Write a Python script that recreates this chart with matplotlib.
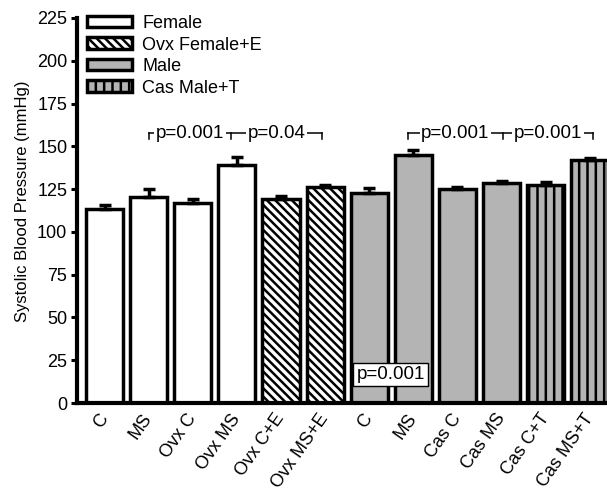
import numpy as np
import matplotlib
matplotlib.use("Agg")
import matplotlib.pyplot as plt
import matplotlib.transforms as mtransforms
from matplotlib.patches import Patch

plt.rcParams['font.family'] = ['Liberation Sans', 'DejaVu Sans']
plt.rcParams['hatch.linewidth'] = 1.8

# data
labels = ['C', 'MS', 'Ovx C', 'Ovx MS', 'Ovx C+E', 'Ovx MS+E',
          'C', 'MS', 'Cas C', 'Cas MS', 'Cas C+T', 'Cas MS+T']
groups = ['Female', 'Female', 'Female', 'Female', 'Ovx Female+E', 'Ovx Female+E',
          'Male', 'Male', 'Male', 'Male', 'Cas Male+T', 'Cas Male+T']
sbp = [113.5, 120.5, 117, 139, 119.5, 126, 123, 145, 125, 128.5, 127.5, 142]
sem = [2, 4.5, 2, 4.5, 1.5, 1.5, 2.5, 3, 1.5, 1, 1.5, 1]

group_names = ['Female', 'Ovx Female+E', 'Male', 'Cas Male+T']
fills = {'Female': 'white', 'Ovx Female+E': 'white', 'Male': '#b4b4b4', 'Cas Male+T': '#b4b4b4'}
hatches = {'Female': None, 'Ovx Female+E': '\\\\\\\\', 'Male': None, 'Cas Male+T': '||'}

fig = plt.figure(figsize=(6.07, 4.9), dpi=100)
ax = fig.add_axes([77 / 607, 87 / 490, 1 - 77 / 607, 385 / 490])

x = np.arange(len(labels))
for i in range(len(labels)):
    g = groups[i]
    ax.bar(x[i], sbp[i], width=0.84, color=fills[g], edgecolor='black',
           linewidth=2.5, hatch=hatches[g], zorder=2)

ax.errorbar(x, sbp, yerr=[np.zeros(len(sem)), sem], fmt='none', ecolor='black',
            elinewidth=2.5, capsize=4, capthick=2.5, zorder=3)

ax.set_xlim(-0.624, 11.39)
ax.set_ylim(0, 225)
ax.set_yticks(np.arange(0, 226, 25))
ax.set_xticks(x)
ax.set_xticklabels(labels, rotation=55, ha='right', va='center',
                   rotation_mode='anchor', fontsize=13)
shift = mtransforms.ScaledTranslation(-6 / 100, 0, fig.dpi_scale_trans)
for lab in ax.get_xticklabels():
    lab.set_transform(lab.get_transform() + shift)
ax.tick_params(axis='x', length=0, pad=9)
ax.tick_params(axis='y', direction='out', length=4, width=2.2, labelsize=13, pad=3)
ax.spines['top'].set_visible(False)
ax.spines['right'].set_visible(False)
ax.spines['left'].set_linewidth(3)
ax.spines['bottom'].set_linewidth(3)
ax.set_ylabel('Systolic Blood Pressure (mmHg)', fontsize=12)
ax.yaxis.set_label_coords(-0.088, 0.523)

# legend
handles = [Patch(facecolor=fills[g], edgecolor='black', linewidth=2.5, hatch=hatches[g])
           for g in group_names]
ax.legend(handles, group_names, loc='upper left', bbox_to_anchor=(87 / 607, 1 - 15 / 490),
          bbox_transform=fig.transFigure, frameon=False, fontsize=13,
          handlelength=2.5, handleheight=0.6, handletextpad=0.55, labelspacing=0.25,
          borderpad=0, borderaxespad=0)

# significance brackets
def bracket(xs, texts, y=157.8, drop=3.8):
    ax.plot([xs[0], xs[-1]], [y, y], color='black', lw=1.1, zorder=4)
    for xx in xs:
        ax.plot([xx, xx], [y, y - drop], color='black', lw=1.1, zorder=4)
    for k, t in enumerate(texts):
        ax.text((xs[k] + xs[k + 1]) / 2, y - 3.0, t, ha='center', va='baseline',
                fontsize=13.5, zorder=5,
                bbox=dict(boxstyle='square,pad=0.08', facecolor='white', edgecolor='none'))

bracket([1.0, 2.87, 4.92], ['p=0.001', 'p=0.04'])
bracket([6.88, 9.03, 11.08], ['p=0.001', 'p=0.001'])

ax.text(6.49, 16.7, 'p=0.001', ha='center', va='center', fontsize=13.5, zorder=5,
        bbox=dict(boxstyle='square,pad=0.18', facecolor='white', edgecolor='black', linewidth=1))

fig.savefig('out.png', dpi=100)
